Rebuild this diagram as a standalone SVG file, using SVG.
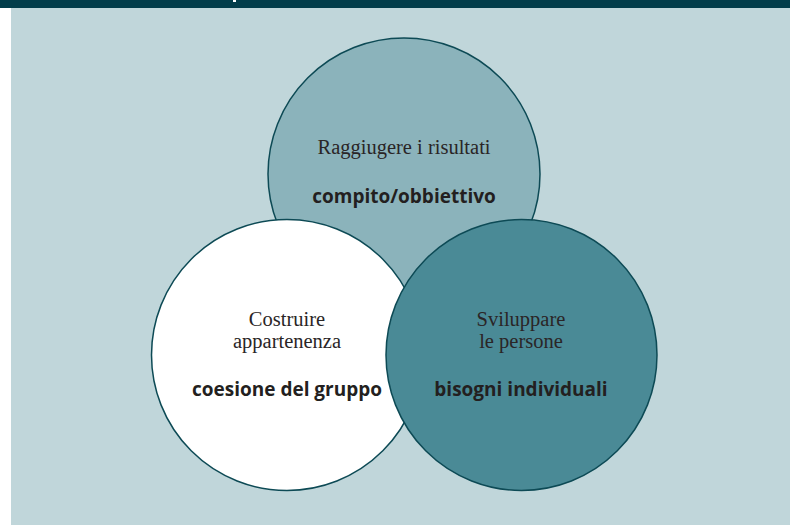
<svg xmlns="http://www.w3.org/2000/svg" width="790" height="525" viewBox="0 0 790 525">
  <style>
    .ring { stroke: #0d4a55; stroke-width: 1.5; }
    .lead { font-family: "Liberation Serif", "DejaVu Serif", serif; font-size: 20.5px; fill: #2a2526; text-anchor: middle; }
    .key { font-family: "Open Sans", "Noto Sans", sans-serif; font-weight: 700; font-size: 19px; fill: #231f20; text-anchor: middle; }
  </style>
  <!-- page background and header band -->
  <rect x="0" y="0" width="790" height="525" fill="#ffffff"/>
  <rect x="11" y="0" width="779" height="525" fill="#c0d6da"/>
  <rect x="0" y="0" width="790" height="8" fill="#023d4a"/>
  <rect x="233" y="0" width="3" height="2" fill="#ffffff"/>

  <g id="compito">
    <circle class="ring" cx="404" cy="174" r="136" fill="#8bb3bb"/>
    <text class="lead" x="404" y="154">Raggiugere i risultati</text>
    <text class="key" x="404" y="203">compito/obbiettivo</text>
  </g>
  <g id="coesione">
    <circle class="ring" cx="287" cy="355" r="135.5" fill="#ffffff"/>
    <text class="lead" x="287" y="326">Costruire</text>
    <text class="lead" x="287" y="348">appartenenza</text>
    <text class="key" x="287" y="396">coesione del gruppo</text>
  </g>
  <g id="bisogni">
    <circle class="ring" cx="521.5" cy="355" r="135.5" fill="#4a8a96"/>
    <text class="lead" x="521" y="326">Sviluppare</text>
    <text class="lead" x="521" y="348">le persone</text>
    <text class="key" x="521" y="396">bisogni individuali</text>
  </g>
  <g id="connectors"/>
</svg>
